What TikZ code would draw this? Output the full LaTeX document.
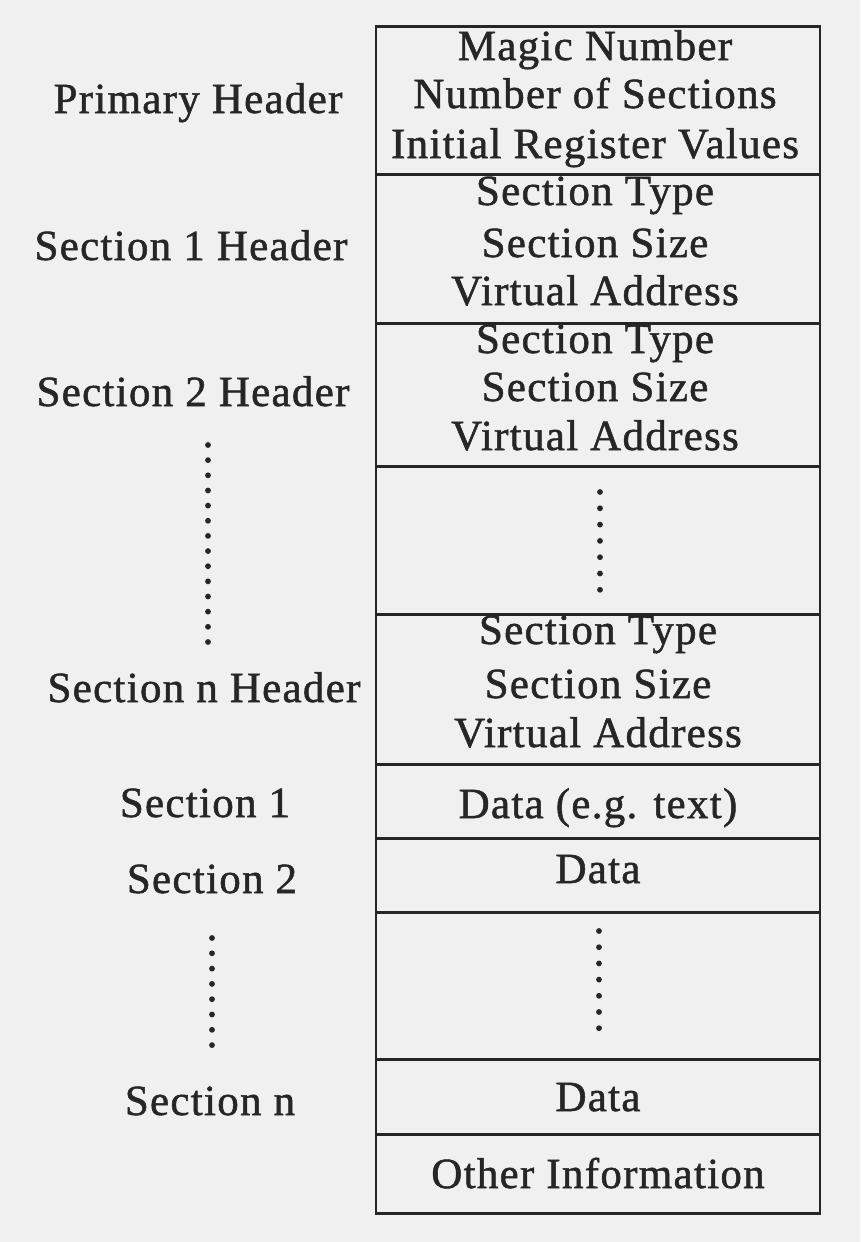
\documentclass[tikz,border=0pt]{standalone}
\usepackage{fontspec}
\setmainfont{Liberation Serif}[LetterSpace=3,FakeBold=1.2]
\definecolor{paper}{HTML}{F0F0F0}
\definecolor{ink}{HTML}{262626}
\begin{document}
\begin{tikzpicture}[x=1pt,y=-1pt,
  every node/.style={text=ink, font=\fontsize{43}{49}\selectfont},
  cell/.style={draw=ink, line width=2.8pt, minimum width=444pt, inner sep=0pt, anchor=north},
  txt/.style={anchor=base, inner sep=0pt},
  lab/.style={anchor=base, inner sep=0pt},
  dot/.style={fill=ink, draw=none}]
\fill[paper] (0,0) rectangle (860,1242);
\useasboundingbox (0,0) rectangle (860,1242);
% cells
\node[cell, minimum height=148pt] (p) at (598,25) {};
\node[cell, minimum height=149pt] (h1) at (598,173) {};
\node[cell, minimum height=143pt] (h2) at (598,322) {};
\node[cell, minimum height=148pt] (hd) at (598,465) {};
\node[cell, minimum height=150pt] (hn) at (598,613) {};
\node[cell, minimum height=74pt] (s1) at (598,763) {};
\node[cell, minimum height=74pt] (s2) at (598,837) {};
\node[cell, minimum height=147pt] (sd) at (598,911) {};
\node[cell, minimum height=75pt] (sn) at (598,1058) {};
\node[cell, minimum height=79pt] (oi) at (598,1133) {};
% cell texts
\node[txt] (p1) at (595,60) {Magic Number};
\node[txt] (p2) at (595,108) {Number of Sections};
\node[txt] (p3) at (595,158) {Initial Register Values};
\node[txt] (a1) at (595,205) {Section Type};
\node[txt] (a2) at (595,257) {Section Size};
\node[txt] (a3) at (595,305) {Virtual Address};
\node[txt] (b1) at (595,353) {Section Type};
\node[txt] (b2) at (595,401) {Section Size};
\node[txt] (b3) at (595,450) {Virtual Address};
\node[txt] (n1) at (598,644) {Section Type};
\node[txt] (n2) at (598,698) {Section Size};
\node[txt] (n3) at (598,747) {Virtual Address};
\node[txt] (d1) at (598,818) {Data (e.g. text)};
\node[txt] (d2) at (598,883) {Data};
\node[txt] (dn) at (598,1111) {Data};
\node[txt] (ot) at (598,1188) {Other Information};
% dots inside box
\foreach \i in {0,...,6} {
  \fill[dot] (600,{492+\i*16.3}) circle (2.9pt);
  \fill[dot] (599,{931+\i*16.2}) circle (2.9pt);
}
% left labels
\node[lab] (lp) at (198,113) {Primary Header};
\node[lab] (l1) at (191,260) {Section 1 Header};
\node[lab] (l2) at (193,406) {Section 2 Header};
\node[lab] (ln) at (204,702) {Section n Header};
\node[lab] (ls1) at (205,817) {Section 1};
\node[lab] (ls2) at (212,893) {Section 2};
\node[lab] (lsn) at (210,1115) {Section n};
% left dots
\foreach \i in {0,...,13} {
  \fill[dot] (208,{445+\i*15.15}) circle (2.9pt);
}
\foreach \i in {0,...,7} {
  \fill[dot] (212,{938+\i*15.3}) circle (2.9pt);
}
\end{tikzpicture}
\end{document}
